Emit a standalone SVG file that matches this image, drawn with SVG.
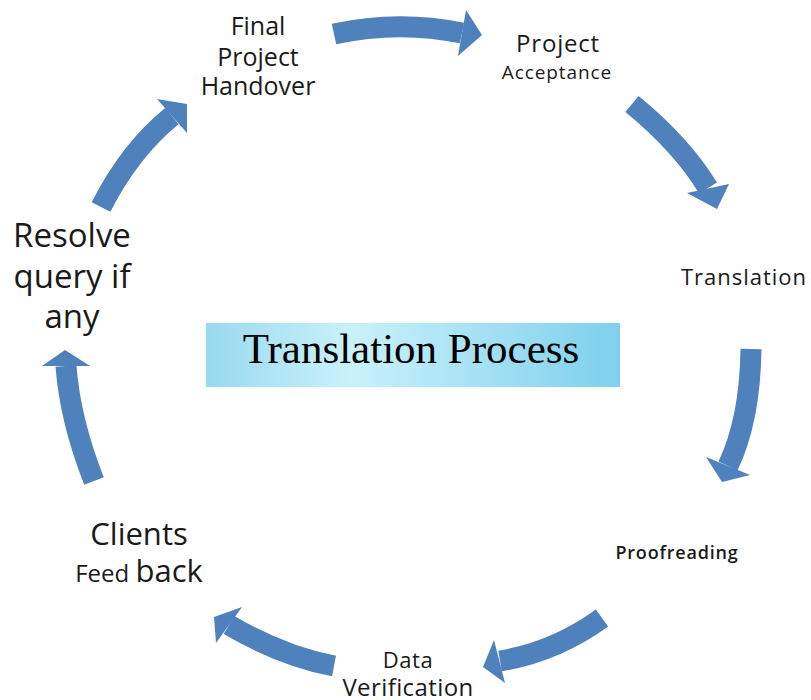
<svg xmlns="http://www.w3.org/2000/svg" width="811" height="700" viewBox="0 0 811 700">
<style>
.body{fill:none;stroke:#4F81BD;stroke-width:21;stroke-linecap:butt}
.head{fill:#4F81BD}
.lbl{font-family:"Open Sans","DejaVu Sans",sans-serif;fill:#1a1a1a;text-anchor:middle}
.title{font-family:"Liberation Serif","Times New Roman",serif;font-size:43px;fill:#000;text-anchor:middle}
</style>
<defs>
<linearGradient id="bg" x1="0" y1="0" x2="1" y2="0">
<stop offset="0" stop-color="#98daf0"/>
<stop offset="0.35" stop-color="#caf1fa"/>
<stop offset="1" stop-color="#7dd0ec"/>
</linearGradient>
</defs>
<rect width="811" height="700" fill="#ffffff"/>
<g id="connectors">
<path class="body" d="M334,34 Q398,20 462,33"/>
<polygon class="head" points="466,10 482,35 458,56"/>
<path class="body" d="M632,104 Q682,145 708,188"/>
<polygon class="head" points="687,193 717,209 729,184"/>
<path class="body" d="M751,349 Q750,420 728,466"/>
<polygon class="head" points="706,457 722,482 750,475"/>
<path class="body" d="M602,618 Q555,652 500,661"/>
<polygon class="head" points="494,640 483,667 505,683"/>
<path class="body" d="M334,666 Q282,656 229,625"/>
<polygon class="head" points="242,607 214,617 216,643"/>
<path class="body" d="M94,481 Q70,420 66,366"/>
<polygon class="head" points="42,366 65,350 90,366"/>
<path class="body" d="M101,207 Q130,150 172,116"/>
<polygon class="head" points="157,99 187,104 187,133"/>
</g>
<g id="center">
<rect x="206" y="323" width="414" height="64" fill="url(#bg)"/>
<text class="title" x="411" y="363">Translation Process</text>
</g>
<g id="handover">
<text class="lbl" font-size="25" x="258" y="35">Final</text>
<text class="lbl" font-size="25" x="258" y="66">Project</text>
<text class="lbl" font-size="25" x="258" y="95">Handover</text>
</g>
<g id="acceptance">
<text class="lbl" font-size="24" letter-spacing="0.8" x="558" y="52">Project</text>
<text class="lbl" font-size="19" letter-spacing="0.9" x="557" y="79">Acceptance</text>
</g>
<g id="translation">
<text class="lbl" font-size="22" letter-spacing="1" x="744" y="285">Translation</text>
</g>
<g id="proofreading">
<text class="lbl" font-size="18" font-weight="600" letter-spacing="0.8" x="677" y="559">Proofreading</text>
</g>
<g id="verification">
<text class="lbl" font-size="22" letter-spacing="0.5" x="408" y="668">Data</text>
<text class="lbl" font-size="24" letter-spacing="0.4" x="408" y="696">Verification</text>
</g>
<g id="feedback">
<text class="lbl" font-size="31" x="139" y="545">Clients</text>
<text class="lbl" x="139" y="582"><tspan font-size="24">Feed </tspan><tspan font-size="31">back</tspan></text>
</g>
<g id="resolve">
<text class="lbl" font-size="33" x="72" y="247">Resolve</text>
<text class="lbl" font-size="33" x="72" y="288">query if</text>
<text class="lbl" font-size="33" x="72" y="328">any</text>
</g>
</svg>
